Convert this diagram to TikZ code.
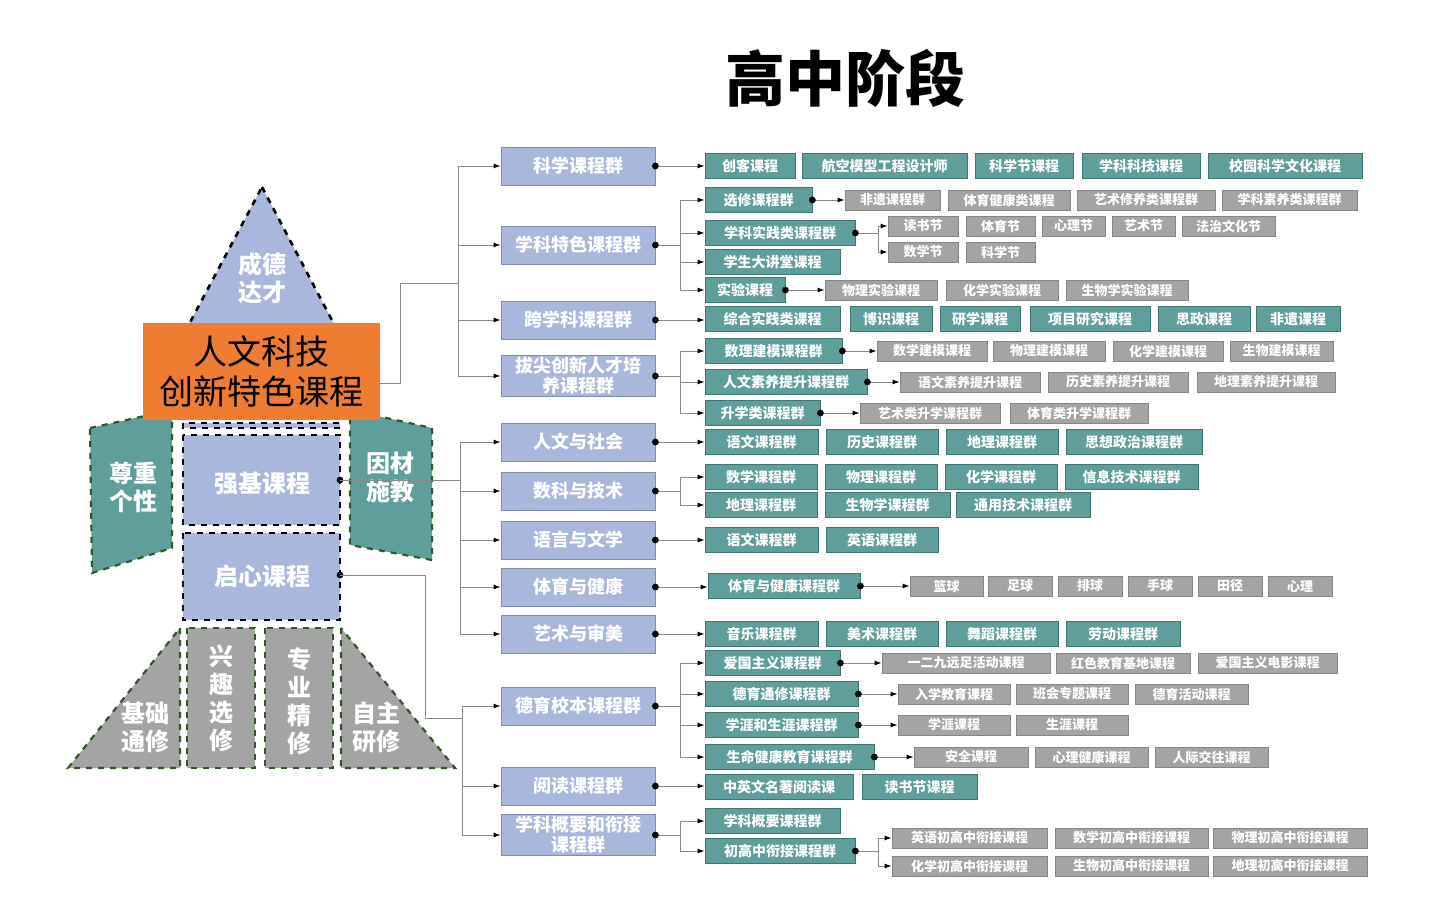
\documentclass[tikz,border=0pt]{standalone}
\usepackage{fontspec}
\setmainfont{Noto Sans CJK SC}
\usetikzlibrary{arrows.meta,positioning,calc}
\definecolor{tealFill}{HTML}{5F9E9B}
\definecolor{tealDraw}{HTML}{3F7573}
\definecolor{grayFill}{HTML}{A4A4A4}
\definecolor{grayDraw}{HTML}{858585}
\definecolor{blueFill}{HTML}{A9B7DD}
\definecolor{blueDraw}{HTML}{7D8DB5}
\definecolor{rocketOrange}{HTML}{EE7D31}
\definecolor{finGreen}{HTML}{2F5A26}
\definecolor{linkGray}{HTML}{8A8A8A}
\newcommand{\boxRow}[4]{%
  \foreach \xa/\xb/\txt [count=\i] in {#4}{
    \pgfmathsetmacro\w{(\xb-\xa)/2}
    \node[#1, minimum width=\w pt] (#2-\i) at ({(\xa+\xb)/2},#3) {\txt};
  }}
\newcommand{\dotAt}[1]{\fill (#1) circle (1.7pt);}
\tikzset{
  midBox/.style={
    draw=blueDraw, fill=blueFill, text=white, font=\bfseries\fontsize{9}{10}\selectfont,
    minimum width=77pt, minimum height=19pt, align=center, inner sep=1pt
  },
  tealBox/.style={
    draw=tealDraw, fill=tealFill, text=white, font=\bfseries\fontsize{7}{8}\selectfont,
    minimum height=12.5pt, inner sep=0.5pt
  },
  grayBox/.style={
    draw=grayDraw, fill=grayFill, text=white, font=\bfseries\fontsize{6.5}{7}\selectfont,
    minimum height=10pt, inner sep=0.5pt
  },
  link/.style={draw=linkGray, line width=0.5pt},
  arr/.style={link, -{Latex[length=3.5pt,width=2.5pt,black]}},
  part/.style={fill=blueFill, draw=black, dashed, line width=1.3pt},
  fin/.style={draw=finGreen, dashed, line width=1.1pt},
  label/.style={text=white, font=\bfseries\fontsize{12}{14}\selectfont, align=center}
}
\begin{document}
\begin{tikzpicture}[x=0.5pt, y=-0.5pt]
  \useasboundingbox (0,0) rectangle (1445,921);
  \node[font=\bfseries\fontsize{30}{32}\selectfont] (title) at (845,78) {高中阶段};

  % rocket
  \draw[part] (262,187) -- (345,345) -- (178,345) -- cycle;
  \node[label] (nose) at (262,278) {成德\\达才};
  \draw[part] (183,423) rectangle (340,428);
  \draw[part] (183,435) rectangle (340,525);
  \node[label] (base) at (262,484) {强基课程};
  \draw[part] (183,533) rectangle (340,620);
  \node[label] (core) at (262,576) {启心课程};
  \draw[fin, fill=tealFill] (90,428) -- (172,410) -- (172,548) -- (92,573) -- cycle;
  \node[label] (finL) at (133,487) {尊重\\个性};
  \draw[fin, fill=tealFill] (350,410) -- (432,428) -- (432,560) -- (350,545) -- cycle;
  \node[label] (finR) at (390,477) {因材\\施教};
  \draw[fin, fill=grayFill] (180,628) -- (180,768) -- (68,768) -- cycle;
  \node[label] (legA) at (145,727) {基础\\通修};
  \draw[fin, fill=grayFill] (187,628) rectangle (255,768);
  \node[label] (legB) at (221,698) {兴\\趣\\选\\修};
  \draw[fin, fill=grayFill] (265,628) rectangle (333,768);
  \node[label] (legC) at (299,701) {专\\业\\精\\修};
  \draw[fin, fill=grayFill] (341,628) -- (341,768) -- (455,768) -- cycle;
  \node[label] (legD) at (376,727) {自主\\研修};
  \node[fill=rocketOrange, minimum width=118.5pt, minimum height=48.5pt, align=center,
    font=\fontsize{17}{20}\selectfont, inner sep=0pt] (brand) at (261.5,371.5)
    {人文科技\\创新特色课程};

  % middle column
  \foreach \name/\y/\txt in {sci/166/科学课程群, spec/245/学科特色课程群, cross/320/跨学科课程群,
      top/376/拔尖创新人才培\\养课程群, hum/442/人文与社会, math/491/数科与技术,
      lang/540/语言与文学, pe/587/体育与健康, art/634/艺术与审美, moral/706/德育校本课程群,
      read/786/阅读课程群, link/835/学科概要和衔接\\课程群}{
    \node[midBox] (\name) at (578,\y) {\txt};
  }

  % teal rows
  \boxRow{tealBox}{sciR}{166}{705/795/创客课程, 802/967/航空模型工程设计师, 975/1073/科学节课程, 1082/1200/学科科技课程, 1208/1362/校园科学文化课程}
  \boxRow{tealBox}{elec}{200}{705/812/选修课程群}
  \boxRow{tealBox}{prac}{233}{705/855/学科实践类课程群}
  \boxRow{tealBox}{talk}{262}{705/840/学生大讲堂课程}
  \boxRow{tealBox}{expt}{290}{705/785/实验课程}
  \boxRow{tealBox}{crossR}{319}{705/840/综合实践类课程, 850/932/博识课程, 940/1020/研学课程, 1030/1150/项目研究课程, 1158/1250/思政课程, 1256/1340/非遗课程}
  \boxRow{tealBox}{model}{351}{705/842/数理建模课程群}
  \boxRow{tealBox}{lit}{382}{705/867/人文素养提升课程群}
  \boxRow{tealBox}{adv}{413}{705/820/升学类课程群}
  \boxRow{tealBox}{humR}{442}{705/818/语文课程群, 826/938/历史课程群, 946/1058/地理课程群, 1066/1202/思想政治课程群}
  \boxRow{tealBox}{mathA}{477}{705/817/数学课程群, 825/937/物理课程群, 945/1057/化学课程群, 1065/1198/信息技术课程群}
  \boxRow{tealBox}{mathB}{505}{705/817/地理课程群, 825/950/生物学课程群, 956/1090/通用技术课程群}
  \boxRow{tealBox}{langR}{540}{705/818/语文课程群, 826/938/英语课程群}
  \boxRow{tealBox}{peR}{586}{708/860/体育与健康课程群}
  \boxRow{tealBox}{artR}{634}{705/818/音乐课程群, 826/938/美术课程群, 946/1058/舞蹈课程群, 1066/1180/劳动课程群}
  \boxRow{tealBox}{pat}{663}{705/840/爱国主义课程群}
  \boxRow{tealBox}{mor}{694}{705/858/德育通修课程群}
  \boxRow{tealBox}{car}{725}{705/858/学涯和生涯课程群}
  \boxRow{tealBox}{life}{757}{705/874/生命健康教育课程群}
  \boxRow{tealBox}{readR}{787}{705/853/中英文名著阅读课, 862/977/读书节课程}
  \boxRow{tealBox}{ovw}{821}{705/840/学科概要课程群}
  \boxRow{tealBox}{brg}{851}{705/855/初高中衔接课程群}

  % gray rows
  \boxRow{grayBox}{elecG}{200}{845/940/非遗课程群, 948/1070/体育健康类课程, 1077/1215/艺术修养类课程群, 1222/1357/学科素养类课程群}
  \boxRow{grayBox}{pracA}{226}{888/958/读书节, 966/1035/体育节, 1042/1105/心理节, 1112/1175/艺术节, 1182/1275/法治文化节}
  \boxRow{grayBox}{pracB}{252}{888/958/数学节, 966/1035/科学节}
  \boxRow{grayBox}{exptG}{290}{825/937/物理实验课程, 946/1058/化学实验课程, 1066/1188/生物学实验课程}
  \boxRow{grayBox}{modelG}{351}{877/987/数学建模课程, 993/1105/物理建模课程, 1113/1223/化学建模课程, 1230/1333/生物建模课程}
  \boxRow{grayBox}{litG}{382}{900/1040/语文素养提升课程, 1048/1188/历史素养提升课程, 1197/1335/地理素养提升课程}
  \boxRow{grayBox}{advG}{413}{860/1000/艺术类升学课程群, 1010/1148/体育类升学课程群}
  \boxRow{grayBox}{peG}{586}{910/983/篮球, 988/1052/足球, 1058/1122/排球, 1128/1192/手球, 1198/1262/田径, 1268/1332/心理}
  \boxRow{grayBox}{patG}{663}{882/1050/一二九远足活动课程, 1056/1190/红色教育基地课程, 1198/1337/爱国主义电影课程}
  \boxRow{grayBox}{morG}{694}{898/1010/入学教育课程, 1016/1128/班会专题课程, 1135/1248/德育活动课程}
  \boxRow{grayBox}{carG}{725}{898/1010/学涯课程, 1016/1128/生涯课程}
  \boxRow{grayBox}{lifeG}{757}{914/1028/安全课程, 1035/1148/心理健康课程, 1155/1268/人际交往课程}
  \boxRow{grayBox}{brgA}{838}{892/1047/英语初高中衔接课程, 1055/1208/数学初高中衔接课程, 1213/1367/物理初高中衔接课程}
  \boxRow{grayBox}{brgB}{866}{892/1047/化学初高中衔接课程, 1055/1208/生物初高中衔接课程, 1213/1367/地理初高中衔接课程}

  % trunks from the rocket
  \draw[link] (brand.east |- 0,383) -- (400,383) -- (400,283) -- (458,283);
  \draw[link] (458,166) -- (458,376);
  \foreach \b in {sci, spec, cross, top}{
    \draw[arr] (458,0 |- \b.west) -- (\b.west);
  }
  \dotAt{340,480}
  \draw[link] (340,480) -- (460,480);
  \draw[link] (460,442) -- (460,634);
  \foreach \b in {hum, math, lang, pe, art}{
    \draw[arr] (460,0 |- \b.west) -- (\b.west);
  }
  \dotAt{340,575}
  \draw[link] (340,575) -- (425,575) -- (425,718) -- (462,718);
  \draw[link] (462,706) -- (462,835);
  \foreach \b in {moral, read, link}{
    \draw[arr] (462,0 |- \b.west) -- (\b.west);
  }

  % middle column to teal rows
  \foreach \b/\c in {sci/sciR, cross/crossR, hum/humR, lang/langR, pe/peR, art/artR, read/readR}{
    \draw[arr] (\b.east) -- (\b.east -| \c-1.west);
    \dotAt{\b.east}
  }
  \foreach \b/\kids in {spec/{elec,prac,talk,expt}, top/{model,lit,adv}, math/{mathA,mathB},
      moral/{pat,mor,car,life}, link/{ovw,brg}}{
    \draw[link] (\b.east) -- ++(25,0);
    \foreach \c in \kids{
      \draw[arr] ($(\b.east)+(25,0)$) |- (\c-1.west);
    }
    \dotAt{\b.east}
  }

  % teal rows to gray rows
  \foreach \c/\g in {elec/elecG, expt/exptG, model/modelG, lit/litG, adv/advG,
      peR/peG, pat/patG, mor/morG, car/carG, life/lifeG}{
    \draw[arr] (\c-1.east) -- (\c-1.east -| \g-1.west);
    \dotAt{\c-1.east}
  }
  \foreach \c/\ga/\gb in {prac/pracA/pracB, brg/brgA/brgB}{
    \draw[link] (\c-1.east) -- ++(23,0);
    \draw[arr] ($(\c-1.east)+(23,0)$) |- (\ga-1.west);
    \draw[arr] ($(\c-1.east)+(23,0)$) |- (\gb-1.west);
    \dotAt{\c-1.east}
  }
\end{tikzpicture}
\end{document}
